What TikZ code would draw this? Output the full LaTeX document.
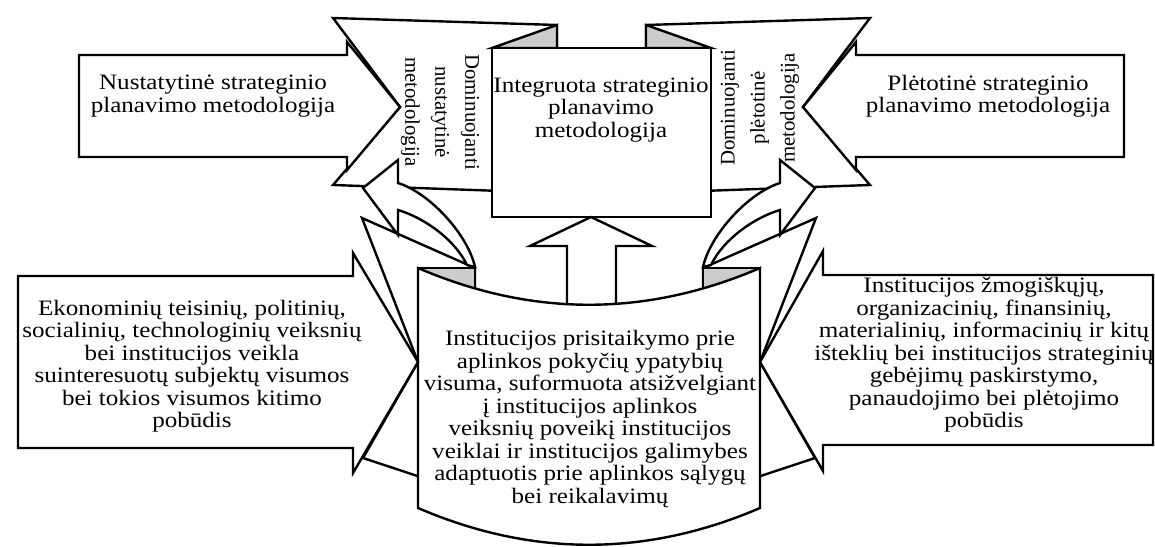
\documentclass[tikz,border=0pt]{standalone}
\usepackage{fontspec}
\setmainfont[FakeStretch=1.14]{Liberation Serif}
\newfontfamily\vertfont{Liberation Serif}

\tikzset{
  blk/.style={draw, line width=1.2pt, fill=white, line join=miter},
  fold/.style={draw, line width=1.2pt, fill=gray!40},
  txt/.style={align=center, inner sep=0pt, font=\fontsize{11}{11.25}\selectfont},
  vtxt/.style={align=center, inner sep=0pt, font=\vertfont\fontsize{10.4}{15}\selectfont},
}

\begin{document}
\begin{tikzpicture}[x=0.5pt, y=-0.5pt]
  \useasboundingbox[fill=white] (0,0) rectangle (1155,546);
  % top banners with folds
  \draw[blk] (333,18) -- (557,25) -- (557,193) -- (333,185) -- (400,107) -- cycle;
  \draw[blk] (870,18) -- (646,25) -- (646,193) -- (870,185) -- (803,107) -- cycle;
  \draw[fold] (492,48) -- (557,25) -- (557,48) -- cycle;
  \draw[fold] (711,48) -- (646,25) -- (646,48) -- cycle;
  \draw[blk] (492,48) rectangle (711,217);
  % top arrows
  \draw[blk] (79,55) -- (347,55) -- (347,42) -- (400,107) -- (347,170) -- (347,157) -- (79,157) -- cycle;
  \draw[blk] (1124,55) -- (856,55) -- (856,42) -- (803,107) -- (856,170) -- (856,157) -- (1124,157) -- cycle;
  % wings behind the lower banner
  \draw[blk] (362,218) -- (475,268) -- (475,495) -- (363,458) -- (418,362) -- cycle;
  \draw[blk] (816,218) -- (703,268) -- (703,495) -- (815,458) -- (760,362) -- cycle;
  % curved arrows
  \draw[blk] (475,267) .. controls (468,235) and (430,193) .. (398,183) -- (398,160) -- (363,188)
    -- (398,235) -- (398,210) .. controls (425,218) and (455,240) .. (467,265) -- cycle;
  \draw[blk] (703,267) .. controls (710,235) and (748,193) .. (780,183) -- (780,160) -- (815,188)
    -- (780,235) -- (780,210) .. controls (753,218) and (723,240) .. (711,265) -- cycle;
  \fill[gray!40] (418,268) rectangle (475,300) (703,268) rectangle (760,300);
  \draw[line width=1.2pt] (418,268) -- (475,268) -- (475,300) (760,268) -- (703,268) -- (703,300);
  % up arrow
  \draw[blk] (567,320) -- (567,246) -- (530,246) -- (591,217) -- (652,246) -- (616,246) -- (616,320) -- cycle;
  % lower banner
  \draw[blk] (418,268) .. controls (532,317) and (646,317) .. (760,268) -- (760,508)
    .. controls (646,557) and (532,557) .. (418,508) -- cycle;
  % lower arrows
  \draw[blk] (18,276) -- (353,276) -- (353,253) -- (418,362) -- (353,473) -- (353,448) -- (18,448) -- cycle;
  \draw[blk] (1153,275) -- (823,275) -- (823,251) -- (760,362) -- (823,471) -- (823,445) -- (1153,445) -- cycle;

  \node[txt] (nust) at (213,96) {Nustatytinė strateginio\\planavimo metodologija};
  \node[txt] (plet) at (988,96) {Plėtotinė strateginio\\planavimo metodologija};
  \node[txt] (integ) at (601,110) {Integruota strateginio\\planavimo\\metodologija};
  \node[vtxt, rotate=-90] (domn) at (440,112) {Dominuojanti\\nustatytinė\\metodologija};
  \node[vtxt, rotate=90] (domp) at (760,108) {Dominuojanti\\plėtotinė\\metodologija};
  \node[txt] (ekon) at (192,366) {Ekonominių teisinių, politinių,\\socialinių, technologinių veiksnių\\bei institucijos veikla\\suinteresuotų subjektų visumos\\bei tokios visumos kitimo\\pobūdis};
  \node[txt] (prisi) at (590,419) {Institucijos prisitaikymo prie\\aplinkos pokyčių ypatybių\\visuma, suformuota atsižvelgiant\\į institucijos aplinkos\\veiksnių poveikį institucijos\\veiklai ir institucijos galimybes\\adaptuotis prie aplinkos sąlygų\\bei reikalavimų};
  \node[txt] (istek) at (984,355) {Institucijos žmogiškųjų,\\organizacinių, finansinių,\\materialinių, informacinių ir kitų\\išteklių bei institucijos strateginių\\gebėjimų paskirstymo,\\panaudojimo bei plėtojimo\\pobūdis};
\end{tikzpicture}
\end{document}
